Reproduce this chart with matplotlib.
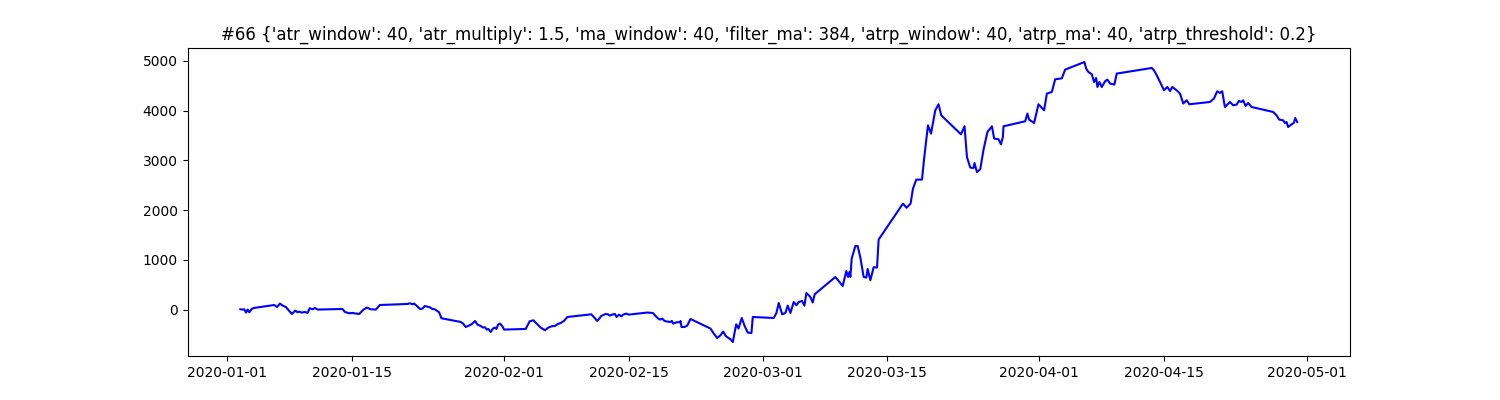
import matplotlib
matplotlib.use('Agg')
import matplotlib.pyplot as plt
import pandas as pd

# days since 2020-01-01 and equity values
days = [1.46, 1.72, 1.90, 2.09, 2.28, 2.46, 2.73, 2.96, 5.26, 5.57, 5.90, 6.20, 6.57, 6.94,
        7.25, 7.62, 7.88, 8.06, 8.33, 8.70, 9.00, 9.23, 9.56, 9.82, 10.12, 12.92, 13.18,
        13.66, 14.04, 14.41, 14.78, 15.27, 15.64, 16.09, 16.65, 17.10, 20.20, 20.46, 20.76,
        20.94, 21.21, 21.61, 21.88, 22.14, 22.70, 23.00, 23.26, 23.74, 24.01, 26.17, 26.43,
        26.73, 27.10, 27.48, 27.77, 28.04, 28.41, 28.67, 28.89, 29.08, 29.27, 29.53, 29.79,
        29.98, 30.17, 30.35, 30.57, 30.84, 31.02,
        33.45, 33.90, 34.31, 34.76, 35.13, 35.61, 35.99, 36.36, 36.73, 37.00, 37.37, 37.74,
        38.12, 40.81, 41.18, 41.48, 41.93, 42.41, 42.67, 42.89, 43.16, 43.45, 43.64, 43.90,
        44.17, 44.39, 44.73, 45.02, 47.08, 47.71, 48.01, 48.27, 48.49, 48.76, 49.02, 49.32,
        49.69, 49.84, 49.99, 50.36, 50.73, 50.81, 50.92, 51.26, 51.56, 51.93, 54.17, 54.54,
        54.92, 55.29, 55.59, 55.88, 56.18, 56.41, 56.67, 57.05, 57.31, 57.67, 58.01, 58.35,
        58.76, 58.91, 61.26,
        61.56, 61.82, 62.20, 62.57, 62.83, 63.13, 63.50, 63.80, 64.06, 64.44, 64.70, 64.92,
        65.37, 65.63, 65.85, 68.17, 68.99, 69.40, 69.59, 69.74, 69.85, 70.00, 70.41, 70.67,
        70.97, 71.34, 71.64, 71.79, 72.09, 72.46, 72.84, 73.02, 75.75, 76.15, 76.60, 76.87,
        77.24, 77.88, 78.14, 78.55, 78.89, 79.37, 79.74, 80.04, 82.25, 82.65, 82.92, 83.29,
        83.66, 83.77, 84.04, 84.41, 84.78, 85.22, 85.72, 85.97, 86.46, 86.73, 86.95, 87.02,
        89.45, 89.70, 89.89, 90.45, 90.94, 91.57, 91.88, 92.44, 92.81, 93.56, 93.93, 96.09,
        96.28, 96.54, 96.92, 97.17, 97.40, 97.55, 97.77, 98.03, 98.41, 98.66, 98.97, 99.45,
        99.71, 103.64, 103.89, 104.20, 104.57, 105.01, 105.38, 105.69, 105.94, 106.43,
        106.81, 107.17, 107.55, 107.85, 110.16, 110.61, 110.98, 111.28, 111.54, 111.84,
        112.40, 112.77, 113.16, 113.41, 113.71, 113.89, 114.16, 114.45, 114.83, 117.25,
        117.63, 117.92, 118.37, 118.56, 118.75, 118.93, 119.31, 119.57, 119.72, 119.94]

equity = [6, 0, 6, -60, 0, -54, 12, 32, 92, 52, 121, 80, 52, -28,
          -88, -20, -54, -40, -60, -48, -68, 26, 6, 32, 0, 12, -48,
          -74, -68, -80, -88, 0, 40, 6, 0, 92, 113, 127, 107,
          121, 80, 12, 20, 72, 46, 12, 6, -54, -175, -249, -282,
          -350, -322, -282, -229, -302, -330, -362, -356, -402, -390, -450, -382,
          -362, -390, -302, -282, -336, -402,
          -390, -235, -215, -296, -362, -416, -362, -336, -330, -296, -269, -229,
          -149, -95, -169, -229, -129, -88, -95, -121, -101, -88, -149, -101,
          -135, -101, -80, -101, -60, -68, -129, -175, -201, -181, -229, -241,
          -249, -229, -282, -255, -255, -229, -350, -350, -322, -189, -382, -483,
          -571, -517, -442, -531, -571, -597, -652, -296, -382, -169, -336, -463,
          -471, -149, -169,
          -68, 133, -95, -68, 80, -68, 153, 86, 153, 173, 80, 334,
          253, 141, 308, 656, 475, 776, 656, 756, 656, 1026, 1279, 1279,
          1046, 656, 644, 816, 589, 851, 845, 1408, 2132, 2047, 2132, 2433,
          2614, 2614, 3069, 3706, 3539, 4008, 4129, 3907, 3525, 3686, 3069, 2856,
          2848, 2948, 2767, 2821, 3218, 3572, 3686, 3439, 3425, 3324, 3471, 3686,
          3787, 3942, 3821, 3753, 4129, 4008, 4344, 4376, 4631, 4651, 4826, 4979,
          4847, 4778, 4732, 4577, 4657, 4476, 4577, 4476, 4591, 4625, 4545, 4525,
          4746, 4859, 4812, 4712, 4577, 4410, 4476, 4396, 4476, 4410,
          4344, 4143, 4210, 4129, 4175, 4243, 4390, 4356, 4390, 4074,
          4175, 4108, 4123, 4195, 4175, 4209, 4094, 4155, 4074, 3974,
          3907, 3821, 3807, 3753, 3773, 3672, 3726, 3753, 3853, 3773]

params = "{'atr_window': 40, 'atr_multiply': 1.5, 'ma_window': 40, 'filter_ma': 384, " \
         "'atrp_window': 40, 'atrp_ma': 40, 'atrp_threshold': 0.2}"

dates = pd.Timestamp('2020-01-01') + pd.to_timedelta(days, unit='D')

plt.figure(figsize=(15, 4), dpi=100)
plt.plot(dates, equity, color='b')
plt.title('#66 ' + params)
plt.savefig('out.png')
